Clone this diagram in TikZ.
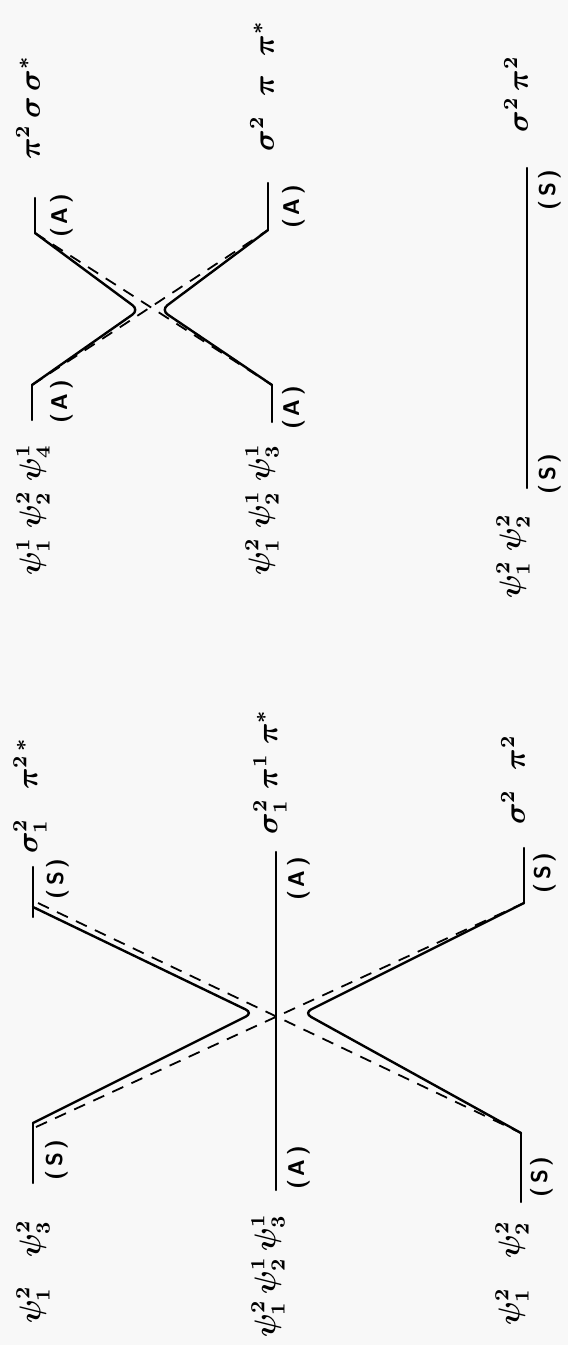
\documentclass[tikz,border=0pt]{standalone}
\usepackage{amsmath}
\usepackage{tikz}
\definecolor{paper}{RGB}{248,248,248}

\begin{document}
\begin{tikzpicture}[x=1pt, y=-1pt,
    lvl/.style={line width=2.4pt, line cap=round},
    dia/.style={line width=1.8pt, dash pattern=on 12pt off 9pt},
    tag/.style={rotate=90, inner sep=0pt, scale=2.5, font=\large\boldmath},
    sym/.style={rotate=90, inner sep=0pt, scale=1.9, font=\large\sffamily\bfseries}]
   \fill[paper] (0,0) rectangle (568,1345);
   \coordinate (uL1a) at (35,198);  \coordinate (uL1) at (35,233);
   \coordinate (uL2) at (32,385);   \coordinate (uL2b) at (32,420);
   \coordinate (uR1a) at (268,183); \coordinate (uR1) at (268,230);
   \coordinate (uR2) at (272,385);  \coordinate (uR2b) at (272,422);
   \coordinate (uS1) at (527,168);  \coordinate (uS2) at (527,488);
   \coordinate (uTl) at (139,310);  \coordinate (uTr) at (161,310);
   \coordinate (lL1a) at (33,867);  \coordinate (lL1) at (33,907);
   \coordinate (lL1b) at (33,917);  \coordinate (lD1) at (38,903);
   \coordinate (lL2) at (33,1123);  \coordinate (lL2b) at (33,1183);
   \coordinate (lD2) at (36,1127);
   \coordinate (lM1) at (276,852);  \coordinate (lM2) at (276,1190);
   \coordinate (lR1a) at (524,848); \coordinate (lR1) at (524,903);
   \coordinate (lR2) at (521,1133); \coordinate (lR2b) at (521,1202);
   \coordinate (lTl) at (253,1013); \coordinate (lTr) at (304,1013);

   \draw[lvl] (uL1a) -- (uL1) (uL2) -- (uL2b) (uR1a) -- (uR1) (uR2) -- (uR2b) (uS1) -- (uS2);
   \draw[lvl, rounded corners=8pt] (uL1) -- (uTl) -- (uL2);
   \draw[lvl, rounded corners=8pt] (uR1) -- (uTr) -- (uR2);
   \draw[dia] (uL1) -- (uR2) (uL2) -- (uR1);

   \draw[lvl] (lL1a) -- (lL1b) (lL2) -- (lL2b) (lM1) -- (lM2) (lR1a) -- (lR1) (lR2) -- (lR2b);
   \draw[lvl, rounded corners=8pt] (lL1) -- (lTl) -- (lL2);
   \draw[lvl, rounded corners=8pt] (lR1) -- (lTr) -- (lR2);
   \draw[dia] (lD1) -- (lR2) (lD2) -- (lR1);

   \node[tag] (uPiSig) at (28,108) {$\pi^2\,\sigma\,\sigma^\ast$};
   \node[sym] (uA1) at (62,216) {(\,A\,)};
   \node[tag] (uPsiA) at (33,510) {$\psi_1^1\;\psi_2^2\;\psi_4^1$};
   \node[sym] (uA2) at (62,402) {(\,A\,)};
   \node[tag] (uSigPi) at (262,86) {$\sigma^2\;\;\pi\;\;\pi^\ast$};
   \node[sym] (uA3) at (294,207) {(\,A\,)};
   \node[tag] (uPsiB) at (262,510) {$\psi_1^2\;\psi_2^1\;\psi_3^1$};
   \node[sym] (uA4) at (294,408) {(\,A\,)};
   \node[tag] (uSigSq) at (516,94) {$\sigma^2\,\pi^2$};
   \node[sym] (uS1t) at (550,190) {(\,S\,)};
   \node[sym] (uS2t) at (550,474) {(\,S\,)};
   \node[tag] (uPsiC) at (513,556) {$\psi_1^2\;\psi_2^2$};

   \node[tag] (lSigA) at (30,796) {$\sigma_1^2\;\;\;\pi^{2\,\ast}$};
   \node[sym] (lS1t) at (58,879) {(\,S\,)};
   \node[tag] (lSigB) at (270,772) {$\sigma_1^2\;\pi^1\;\pi^\ast$};
   \node[sym] (lA1) at (299,879) {(\,A\,)};
   \node[tag] (lSigC) at (513,780) {$\sigma^2\;\;\pi^2$};
   \node[sym] (lS3t) at (545,873) {(\,S\,)};
   \node[tag] (lPsiA) at (33,1272) {$\psi_1^2\;\;\;\psi_3^2$};
   \node[sym] (lS2t) at (57,1160) {(\,S\,)};
   \node[tag] (lPsiB) at (268,1276) {$\psi_1^2\,\psi_2^1\,\psi_3^1$};
   \node[sym] (lA2) at (299,1168) {(\,A\,)};
   \node[sym] (lS4t) at (542,1177) {(\,S\,)};
   \node[tag] (lPsiC) at (512,1273) {$\psi_1^2\quad\psi_2^2$};
\end{tikzpicture}
\end{document}
